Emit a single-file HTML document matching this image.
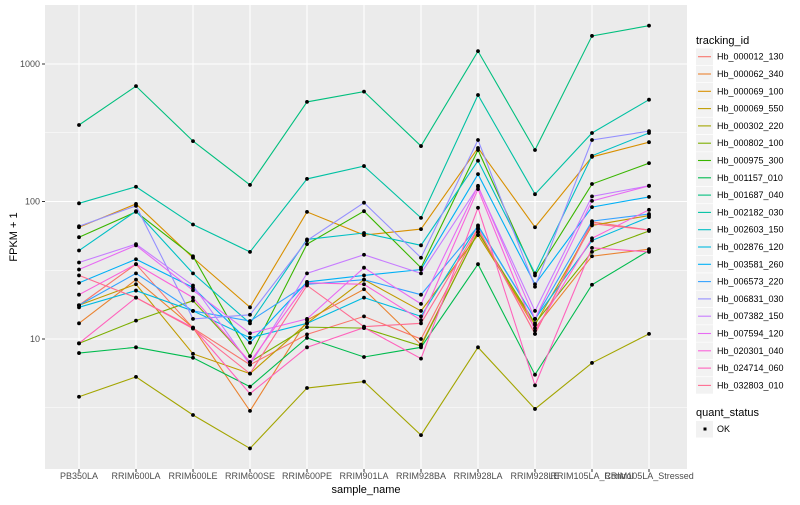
<!DOCTYPE html>
<html><head><meta charset="utf-8"><style>
body{margin:0;background:#fff;font-family:"Liberation Sans",sans-serif}
svg text{font-family:"Liberation Sans",sans-serif}
</style></head><body>
<svg id="chart" width="800" height="500" xmlns="http://www.w3.org/2000/svg"></svg>
<script>
const categories=["PB350LA","RRIM600LA","RRIM600LE","RRIM600SE","RRIM600PE","RRIM901LA","RRIM928BA","RRIM928LA","RRIM928LE","RRIM105LA_Control","RRIM105LA_Stressed"];
const seriesNames=["Hb_000012_130","Hb_000062_340","Hb_000069_100","Hb_000069_550","Hb_000302_220","Hb_000802_100","Hb_000975_300","Hb_001157_010","Hb_001687_040","Hb_002182_030","Hb_002603_150","Hb_002876_120","Hb_003581_260","Hb_006573_220","Hb_006831_030","Hb_007382_150","Hb_007594_120","Hb_020301_040","Hb_024714_060","Hb_032803_010"];
const seriesColors=["#F8766D","#EA8331","#D89000","#C09B00","#A3A500","#7CAE00","#39B600","#00BB4E","#00BF7D","#00C1A3","#00BFC4","#00BAE0","#00B0F6","#35A2FF","#9590FF","#C77CFF","#E76BF3","#FA62DB","#FF62BC","#FF6C91"];
const s000012_130=[17.6,35,12,6.5,10.8,14.6,10,63,10.9,71,62];
const s000062_340=[13,27,12.1,3.0,13.7,23,9.1,60,12,40,45];
const s000069_100=[65,96,39,17,84,57,63,245,65,211,270];
const s000069_550=[17.6,25,7.8,5.6,13,27,16,57,12.7,67,79];
const s000302_220=[3.8,5.3,2.8,1.6,4.4,4.9,2.0,8.7,3.1,6.7,10.9];
const s000802_100=[9.3,13.6,19,6.8,12.2,12,8.9,60,13,43,61];
const s000975_300=[55,84,40,7.5,49,85,33,237,29,134,190];
const s001157_010=[7.9,8.7,7.3,4.5,10.2,7.4,8.7,35,5.5,24.8,44];
const s001687_040=[360,690,275,132,530,630,253,1240,237,1600,1900];
const s002182_030=[97,128,68,43,146,181,76,595,113,315,550];
const s002603_150=[44,85,30,13,53,59,48,198,30,215,315];
const s002876_120=[17,22.5,16,10.2,13,20,14.6,67,14,52,77];
const s003581_260=[25.6,38,23.7,9.4,26,29,32,158,25,91,108];
const s006573_220=[17.6,30,16,13.5,25,27,21,66,14,72,81];
const s006831_030=[66,93,14,15,52,98,39,280,24,280,325];
const s007382_150=[36,49,24.5,6.5,30,41,30,128,16,109,130];
const s007594_120=[32,48,22.6,11,14,33,18,130,14,101,130];
const s020301_040=[21,35,20,6.8,25.6,25,13.7,123,11.5,54,87];
const s024714_060=[9.3,20,12.1,4.0,8.7,12.1,7.2,90,4.6,46,43];
const s032803_010=[29,20,11.9,5.6,24.5,12.3,13,64,10.9,69,62];
const seriesValues=[s000012_130,s000062_340,s000069_100,s000069_550,s000302_220,s000802_100,s000975_300,s001157_010,s001687_040,s002182_030,s002603_150,s002876_120,s003581_260,s006573_220,s006831_030,s007382_150,s007594_120,s020301_040,s024714_060,s032803_010];
const yTicks=[10,100,1000];
const yMinor=[3.1623,31.623,316.23];

const NS="http://www.w3.org/2000/svg";
const svg=document.getElementById('chart');
const L=45,R=687,T=5,B=469;
function x(i){return 79+i*57;}
function y(v){return 64+(3-Math.log10(v))*137.5;}
function el(tag,attrs,parent){const e=document.createElementNS(NS,tag);for(const k in attrs)e.setAttribute(k,attrs[k]);(parent||svg).appendChild(e);return e;}

const panel=el('rect',{x:L,y:T,width:R-L,height:B-T,fill:'#EBEBEB'});


yMinor.forEach(v=>{const g=el('line',{x1:L,x2:R,y1:y(v),y2:y(v),stroke:'#fff','stroke-width':0.5});

});
yTicks.forEach(v=>{const g=el('line',{x1:L,x2:R,y1:y(v),y2:y(v),stroke:'#fff','stroke-width':1.1});


const tk=el('line',{x1:L-3,x2:L,y1:y(v),y2:y(v),stroke:'#333','stroke-width':1});


const t=el('text',{x:L-5,y:y(v)+3,'text-anchor':'end','font-size':9,fill:'#4D4D4D'});t.textContent=v;

});
categories.forEach((c,i)=>{const g=el('line',{x1:x(i),x2:x(i),y1:T,y2:B,stroke:'#fff','stroke-width':1.1});


const tk=el('line',{x1:x(i),x2:x(i),y1:B,y2:B+3,stroke:'#333'});


const t=el('text',{x:x(i),y:479,'text-anchor':'middle','font-size':9,fill:'#4D4D4D'});t.textContent=c;

});

seriesValues.forEach((vals,s)=>{
const p=el('polyline',{points:vals.map((v,i)=>x(i)+','+y(v)).join(' '),fill:'none',stroke:seriesColors[s],'stroke-width':1.1});


});
seriesValues.forEach((vals,s)=>{vals.forEach((v,i)=>{
const d=el('circle',{cx:x(i),cy:y(v),r:1.9,fill:'#000'});

});});

const xt=el('text',{x:366,y:493,'text-anchor':'middle','font-size':11,fill:'#000'});xt.textContent='sample_name';


const yt=el('text',{x:0,y:0,'text-anchor':'middle','font-size':11,fill:'#000',transform:'translate(17,237) rotate(-90)'});yt.textContent='FPKM + 1';



const lt=el('text',{x:696,y:44,'font-size':11,fill:'#000'});lt.textContent='tracking_id';


seriesNames.forEach((n,s)=>{const cy=56.7+s*17.3;
const g=el('g',{});


el('rect',{x:696,y:cy-8.3,width:17,height:16.6,fill:'#F2F2F2'},g);
el('line',{x1:698,x2:711,y1:cy,y2:cy,stroke:seriesColors[s],'stroke-width':1.1},g);
const t=el('text',{x:717,y:cy+3,'font-size':9,fill:'#000'},g);t.textContent=n;});
const qt=el('text',{x:696,y:416,'font-size':11,fill:'#000'});qt.textContent='quant_status';


const qg=el('g',{});


el('rect',{x:696,y:421,width:17,height:16.6,fill:'#F2F2F2'},qg);
el('rect',{x:703.5,y:427.5,width:3,height:3,fill:'#000'},qg);
const ok=el('text',{x:717,y:432,'font-size':9,fill:'#000'},qg);ok.textContent='OK';
</script>
</body></html>
